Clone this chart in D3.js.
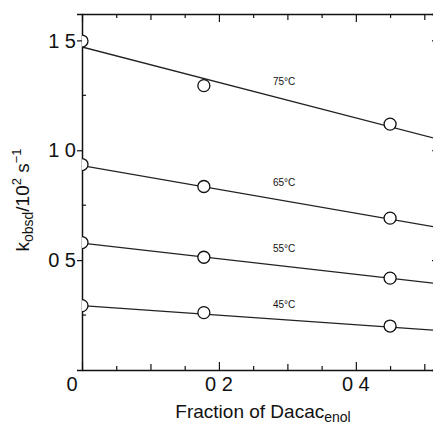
<!DOCTYPE html>
<html>
<head>
<meta charset="utf-8">
<script src="https://cdn.jsdelivr.net/npm/d3@7"></script>
<style>
  body { margin: 0; background: #fff; }
  text { font-family: "Liberation Sans", Arial, sans-serif; fill: #111; }
</style>
</head>
<body>
<svg id="chart" width="433" height="426"></svg>
<script>
// data
const fractions = [0, 0.178, 0.45];
const temps = ["75°C", "65°C", "55°C", "45°C"];
const kobs = [
  [1.497, 1.294, 1.119],
  [0.935, 0.835, 0.691],
  [0.58, 0.513, 0.418],
  [0.293, 0.261, 0.2]
];
// straight fit lines: intercept, slope
const fitIntercept = [1.47, 0.93, 0.577, 0.293];
const fitSlope = [-0.807, -0.541, -0.355, -0.217];
// where the temperature labels sit (data units)
const labelX = [0.279, 0.279, 0.279, 0.279];
const labelY = [1.315, 0.855, 0.555, 0.296];

const xMajor = [0, 0.2, 0.4];
const xMajorText = ["0", "0 2", "0 4"];
const yMajor = [0.5, 1.0, 1.5];
const yMajorText = ["0 5", "1 0", "1 5"];

const svg = d3.select("#chart");

const x = d3.scaleLinear().domain([0, 0.52]).range([82, 438]);
const y = d3.scaleLinear().domain([0, 1.62]).range([370, 14]);

const xMinor = d3.range(0, 0.52, 0.05).map(v => +v.toFixed(2));
const yMinor = [0.25, 0.75, 1.25];

// clip for circles at the axis
svg.append("clipPath").attr("id", "plotclip")
  .append("rect")
  .attr("x", x(0)).attr("y", y(1.62))
  .attr("width", x(0.52) - x(0)).attr("height", y(0) - y(1.62));

const tickLen = v => {
  const r = Math.round(v * 100);
  if (r % 20 === 0) return 8;
  if (r % 10 === 0) return 6;
  return 4;
};

// bottom axis, ticks inward
const bottomAx = svg.append("g")
  .attr("transform", `translate(0,${y(0)})`)
  .call(d3.axisBottom(x).tickValues(xMinor).tickSize(0).tickFormat(""));
bottomAx.selectAll(".tick line").attr("y2", d => -tickLen(d));

// top axis, ticks inward
const topAx = svg.append("g")
  .attr("transform", `translate(0,${y(1.62)})`)
  .call(d3.axisTop(x).tickValues(xMinor).tickSize(0).tickFormat(""));
topAx.selectAll(".tick line").attr("y2", d => tickLen(d));

// left axis: majors outward, minors inward
const leftAx = svg.append("g")
  .attr("transform", `translate(${x(0)},0)`)
  .call(d3.axisLeft(y).tickValues(yMajor).tickSize(5).tickFormat(""));
leftAx.selectAll("g.minor")
  .data(yMinor)
  .join("g")
  .attr("class", "minor tick")
  .attr("transform", d => `translate(0,${y(d)})`)
  .append("line").attr("x2", 4);

// right axis, ticks inward
svg.append("g")
  .attr("transform", `translate(${x(0.52)},0)`)
  .call(d3.axisRight(y).tickValues(yMajor).tickSize(-6).tickFormat(""));

svg.selectAll(".domain").attr("stroke", "#111").attr("stroke-width", 1.5);
svg.selectAll(".tick line").attr("stroke", "#111").attr("stroke-width", 1.2);

// tick labels
svg.append("g").selectAll("text")
  .data(yMajor)
  .join("text")
  .attr("x", x(0) - 6)
  .attr("y", d => y(d))
  .attr("dy", "0.36em")
  .attr("text-anchor", "end")
  .attr("font-size", 20)
  .text((d, i) => yMajorText[i]);

svg.append("g").selectAll("text")
  .data(xMajor)
  .join("text")
  .attr("x", d => d === 0 ? x(d) - 10 : x(d))
  .attr("y", y(0) + 21)
  .attr("text-anchor", "middle")
  .attr("font-size", 20)
  .text((d, i) => xMajorText[i]);

// axis titles
const xt = svg.append("text")
  .attr("x", 263)
  .attr("y", 418)
  .attr("text-anchor", "middle")
  .attr("font-size", 19);
xt.append("tspan").text("Fraction of Dacac");
xt.append("tspan").attr("font-size", 14).attr("dy", 4).text("enol");

const yt = svg.append("text")
  .attr("transform", "translate(29,200) rotate(-90)")
  .attr("text-anchor", "middle")
  .attr("font-size", 19);
yt.append("tspan").text("k");
yt.append("tspan").attr("font-size", 14).attr("dy", 4).text("obsd");
yt.append("tspan").attr("dy", -4).text("/10");
yt.append("tspan").attr("font-size", 13).attr("dy", -8).text("2");
yt.append("tspan").attr("dy", 8).text(" s");
yt.append("tspan").attr("font-size", 13).attr("dy", -8).text("−1");

// fit lines
const plot = svg.append("g").attr("clip-path", "url(#plotclip)");
plot.selectAll("line.fit")
  .data(temps)
  .join("line")
  .attr("class", "fit")
  .attr("x1", x(0))
  .attr("y1", (d, i) => y(fitIntercept[i]))
  .attr("x2", x(0.52))
  .attr("y2", (d, i) => y(fitIntercept[i] + fitSlope[i] * 0.52))
  .attr("stroke", "#222")
  .attr("stroke-width", 1.3);

// data points
plot.selectAll("g.series")
  .data(kobs)
  .join("g")
  .attr("class", "series")
  .selectAll("circle")
  .data(d => d.map((v, j) => ({ f: fractions[j], k: v })))
  .join("circle")
  .attr("cx", d => x(d.f))
  .attr("cy", d => y(d.k))
  .attr("r", 6)
  .attr("fill", "#fff")
  .attr("stroke", "#111")
  .attr("stroke-width", 1.3);

// temperature labels
svg.append("g").selectAll("text")
  .data(temps)
  .join("text")
  .attr("x", (d, i) => x(labelX[i]))
  .attr("y", (d, i) => y(labelY[i]))
  .attr("dy", "0.35em")
  .attr("font-size", 10)
  .text(d => d);
</script>
</body>
</html>
